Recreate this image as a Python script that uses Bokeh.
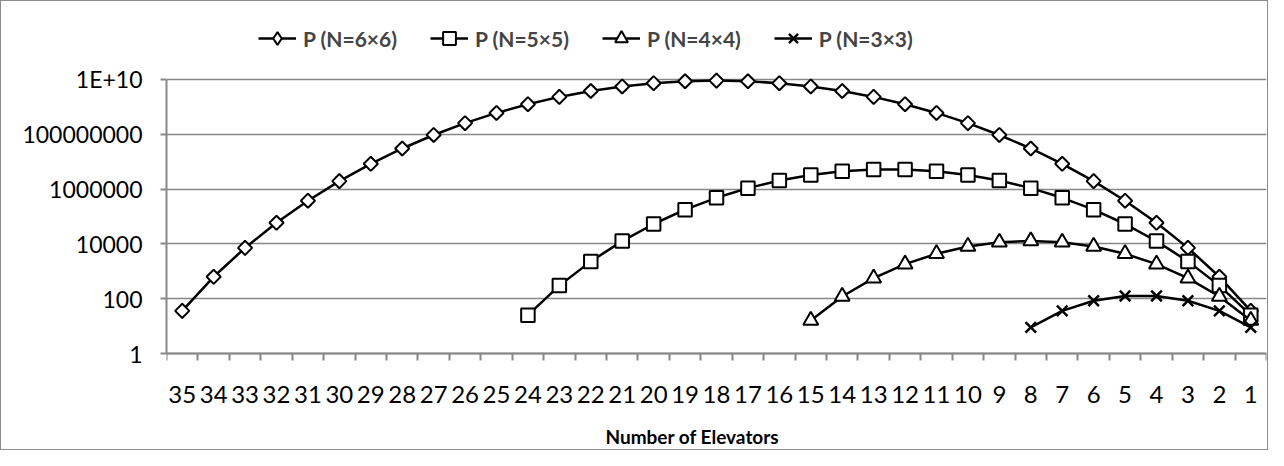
from bokeh.plotting import figure
from bokeh.models import Range1d, FixedTicker, Legend, LegendItem, Label
from bokeh.embed import file_html
from bokeh.resources import INLINE
import math

# ---- data ----
elevator_ticks = list(range(35, 0, -1))
y_ticks = [1, 100, 10000, 1000000, 100000000, 10000000000]
y_tick_labels = ["1", "100", "10000", "1000000", "100000000", "1E+10"]

x_66 = list(range(35, 0, -1))
p_66 = [36, 630, 7140, 58905, 376992, 1947792, 8347680, 30260340, 94143280,
        254186856, 600805296, 1251677700, 2310789600, 3796297200, 5567902560,
        7307872110, 8597496600, 9075135300, 8597496600, 7307872110, 5567902560,
        3796297200, 2310789600, 1251677700, 600805296, 254186856, 94143280,
        30260340, 8347680, 1947792, 376992, 58905, 7140, 630, 36]

x_55 = list(range(24, 0, -1))
p_55 = [25, 300, 2300, 12650, 53130, 177100, 480700, 1081575, 2042975, 3268760,
        4457400, 5200300, 5200300, 4457400, 3268760, 2042975, 1081575, 480700,
        177100, 53130, 12650, 2300, 300, 25]

x_44 = list(range(15, 0, -1))
p_44 = [16, 120, 560, 1820, 4368, 8008, 11440, 12870, 11440, 8008, 4368, 1820,
        560, 120, 16]

x_33 = list(range(8, 0, -1))
p_33 = [9, 36, 84, 126, 126, 84, 36, 9]

series_names = ["P (N=6\u00d76)", "P (N=5\u00d75)", "P (N=4\u00d74)", "P (N=3\u00d73)"]
x_title = "Number of Elevators"

FONT = "Lato"
GRID = "#878787"

p = figure(width=1268, height=450, output_backend="svg", toolbar_location=None,
           y_axis_type="log",
           x_range=Range1d(35.5, 0.5),
           y_range=Range1d(10 ** -3.43, 10 ** 12.48),
           min_border_left=165, min_border_right=3,
           min_border_top=10, min_border_bottom=4)
p.styles = {"border": "1.5px solid #8c8c8c", "box-sizing": "border-box"}
p.outline_line_color = None
p.background_fill_color = "white"
p.border_fill_color = "white"

# y axis
p.yaxis.ticker = FixedTicker(ticks=y_ticks)
p.yaxis.major_label_overrides = {t: l for t, l in zip(y_ticks, y_tick_labels)}
p.yaxis.bounds = (1, 10 ** 10)
p.yaxis.minor_tick_line_color = None
p.yaxis.major_tick_in = 0
p.yaxis.major_tick_out = 6
p.yaxis.axis_line_color = GRID
p.yaxis.axis_line_width = 2
p.yaxis.major_tick_line_color = GRID
p.yaxis.major_tick_line_width = 2
p.yaxis.major_label_standoff = 18
p.yaxis.major_label_text_font = FONT
p.yaxis.major_label_text_font_size = "23px"
p.yaxis.major_label_text_color = "black"

p.ygrid.ticker = FixedTicker(ticks=y_ticks)
p.ygrid.grid_line_color = GRID
p.ygrid.grid_line_width = 1.5
p.xgrid.grid_line_color = None

# x axis (drawn at y = 1)
boundaries = [e + 0.5 for e in elevator_ticks] + [0.5]
p.xaxis.fixed_location = 1
p.xaxis.ticker = FixedTicker(ticks=elevator_ticks, minor_ticks=boundaries)
p.xaxis.major_tick_line_color = None
p.xaxis.major_tick_out = 0
p.xaxis.major_tick_in = 0
p.xaxis.minor_tick_in = 0
p.xaxis.minor_tick_out = 7
p.xaxis.minor_tick_line_color = GRID
p.xaxis.minor_tick_line_width = 2
p.xaxis.axis_line_color = GRID
p.xaxis.axis_line_width = 2
p.xaxis.major_label_standoff = 25
p.xaxis.major_label_text_font = FONT
p.xaxis.major_label_text_font_size = "24px"
p.xaxis.major_label_text_color = "black"

# series
common = dict(line_color="black", line_width=2.5)
mk = dict(fill_color="white", line_color="black", line_width=2)
l1 = p.line(x_66, p_66, **common)
m1 = p.scatter(x_66, p_66, marker="square", angle=math.pi / 4, size=10, **mk)
# legend-only proxy (no visible data point)
m1_legend = p.scatter(x=[float("nan")], y=[float("nan")], marker="diamond", size=16, **mk)
l2 = p.line(x_55, p_55, **common)
m2 = p.scatter(x_55, p_55, marker="square", size=13.5, **mk)
l3 = p.line(x_44, p_44, **common)
m3 = p.scatter(x_44, p_44, marker="triangle", size=15, **mk)
l4 = p.line(x_33, p_33, **common)
m4 = p.scatter(x_33, p_33, marker="x", size=15, line_color="black", line_width=2.5)

legend = Legend(items=[
    LegendItem(label=series_names[0], renderers=[l1, m1_legend]),
    LegendItem(label=series_names[1], renderers=[l2, m2]),
    LegendItem(label=series_names[2], renderers=[l3, m3]),
    LegendItem(label=series_names[3], renderers=[l4, m4]),
], orientation="horizontal", location=(92, 393))
legend.padding = 0
legend.margin = 0
legend.spacing = 33
legend.glyph_width = 38
legend.glyph_height = 32
legend.label_standoff = 7
legend.label_text_font = FONT
legend.label_text_font_style = "bold"
legend.label_text_font_size = "21px"
legend.background_fill_alpha = 0
legend.border_line_alpha = 0
p.add_layout(legend, "center")

p.add_layout(Label(x=439, y=11, x_units="screen", y_units="screen", text=x_title,
                   text_font=FONT, text_font_size="19px", text_font_style="bold",
                   text_color="black", text_baseline="middle", text_align="left"))

open("out.html", "w").write(file_html(p, INLINE))
